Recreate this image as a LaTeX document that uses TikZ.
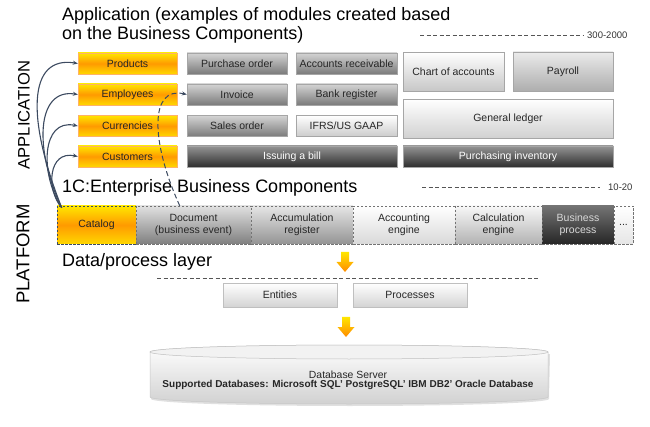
\documentclass[tikz,border=0pt]{standalone}
\usepackage{fontspec}
\setmainfont{Liberation Sans}
\usetikzlibrary{shadows,arrows.meta,calc}
\definecolor{lineblue}{HTML}{3C4A60}
\definecolor{ytop}{HTML}{FFE600}
\definecolor{ymid}{HTML}{FF9A00}
\definecolor{ybot}{HTML}{FFD800}
\definecolor{dashgray}{HTML}{555555}
\begin{document}
\begin{tikzpicture}[x=1pt,y=-1pt,
  every node/.style={inner sep=0pt, font=\fontsize{10.5}{11}\selectfont, text=black!85},
  bx/.style={minimum width=#1, draw=black!35, line width=0.4pt,
     drop shadow={shadow xshift=1pt, shadow yshift=-1pt, opacity=0.25}},
  yel/.style={bx=#1, top color=ytop, bottom color=ybot, middle color=ymid, draw=orange!60},
  gry/.style={bx=#1, top color=black!17, bottom color=black!52},
  lgt/.style={bx=#1, top color=white, bottom color=black!20},
  drk/.style={bx=#1, top color=black!42, bottom color=black!82, text=white},
  row/.style={minimum height=21},
  tall/.style={minimum height=39},
  title/.style={font=\fontsize{18}{20}\selectfont, anchor=base west, text=black},
  side/.style={rotate=90, text=black},
  rng/.style={font=\fontsize{9.5}{10}\selectfont, anchor=west, text=black!80},
  sep/.style={dashgray, line width=0.8pt, dash pattern=on 4pt off 2.5pt},
  pf/.style={minimum height=38, draw=black!55, dash pattern=on 2.5pt off 1.5pt, line width=0.6pt, align=center, font=\fontsize{10.5}{12}\selectfont},
  link/.style={lineblue, line width=1.1pt, -{Stealth[length=5pt,width=4pt]}},
  dlink/.style={lineblue, line width=1pt, dash pattern=on 5pt off 3pt, -{Stealth[length=5pt,width=4pt]}},
  orarrow/.pic={\path[top color=ytop, bottom color=ymid!90!red, draw=none]
     (-4,0) -- (4,0) -- (4,10) -- (8.5,10) -- (0,20) -- (-8.5,10) -- (-4,10) -- cycle;}
]
\useasboundingbox (0,0) rectangle (650,427);

% titles
\node[title] (t1) at (62,21) {Application (examples of modules created based};
\node[title] (t2) at (62,40) {on the Business Components)};
\node[title] (t3) at (62,193) {1C:Enterprise Business Components};
\node[title] (t4) at (62,267) {Data/process layer};
\node[side, font=\fontsize{16.6}{18}\selectfont] (sa) at (24,115) {APPLICATION};
\node[side, font=\fontsize{18.5}{20}\selectfont] (sp) at (23,254) {PLATFORM};

\coordinate (d1a) at (420,35); \coordinate (d1b) at (583,35);
\draw[sep] (d1a) -- (d1b);
\node[rng] (r1) at (587,35) {300-2000};
\coordinate (d2a) at (422,187); \coordinate (d2b) at (600,187);
\draw[sep] (d2a) -- (d2b);
\node[rng] (r2) at (608,187) {10-20};
\coordinate (d3a) at (157,278); \coordinate (d3b) at (538,278);
\draw[sep] (d3a) -- (d3b);

% application column 1
\node[yel=99, row] (prod) at (127.5,63.5) {Products};
\node[yel=99, row] (emp) at (127.5,94.5) {Employees};
\node[yel=99, row] (cur) at (127.5,126) {Currencies};
\node[yel=99, row] (cus) at (127.5,156.5) {Customers};
% column 2
\node[gry=100, row] (po) at (237,63.5) {Purchase order};
\node[gry=100, row] (inv) at (237,94.5) {Invoice};
\node[gry=100, row] (so) at (237,126) {Sales order};
\node[drk=210, row] (bill) at (292,156.5) {Issuing a bill};
% column 3
\node[gry=101, row] (ar) at (346.5,63.5) {Accounts receivable};
\node[gry=101, row] (br) at (346.5,94.5) {Bank register};
\node[lgt=101, row] (ifrs) at (346.5,126) {IFRS/US GAAP};
% right block
\node[lgt=101, tall, bottom color=black!22] (coa) at (453.5,71.5) {Chart of accounts};
\node[lgt=100, tall, top color=black!8, bottom color=black!32] (pay) at (563,71.5) {Payroll};
\node[lgt=210, tall, bottom color=black!18] (gl) at (508,118.5) {General ledger};
\node[drk=210, row] (pi) at (508,156.5) {Purchasing inventory};

% platform row
\node[pf, minimum width=79, top color=ytop, bottom color=ybot, middle color=ymid, draw=lineblue] (cat) at (96.5,225) {Catalog};
\node[pf, minimum width=115, top color=black!12, bottom color=black!50] (doc) at (193.5,225) {Document\\(business event)};
\node[pf, minimum width=102, top color=black!10, bottom color=black!42] (acc) at (302,225) {Accumulation\\register};
\node[pf, minimum width=102, top color=white, bottom color=black!15] (aen) at (404,225) {Accounting\\engine};
\node[pf, minimum width=87, top color=black!3, bottom color=black!30] (cen) at (498.5,225) {Calculation\\engine};
\node[pf, minimum width=72, top color=black!55, bottom color=black!85, text=black!15] (bp) at (578,225) {Business\\process};
\node[pf, minimum width=19, top color=white, bottom color=black!10] (dots) at (623.5,225) {...};

% data layer
\node[lgt=114, minimum height=24, bottom color=black!17, draw=black!25] (ent) at (280,295) {Entities};
\node[lgt=114, minimum height=24, bottom color=black!17, draw=black!25] (proc) at (410,295) {Processes};

\pic at (345,252) {orarrow};
\pic at (346,317) {orarrow};

% database cylinder
\fill[black!12] (151,354) -- (151,399) arc[start angle=180,end angle=360,x radius=199pt,y radius=7pt] -- (550,354) -- cycle;
\path[top color=white, bottom color=black!18, draw=black!22, line width=0.5pt]
  (150,352) -- (150,397) arc[start angle=180,end angle=360,x radius=199pt,y radius=7pt]
  -- (548,352) arc[start angle=0,end angle=180,x radius=199pt,y radius=7pt] -- cycle;
\draw[fill=black!5, draw=black!25, line width=0.5pt] (349,352) ellipse[x radius=199pt, y radius=7pt];
\node[align=center, font=\fontsize{10}{9}\selectfont] (db) at (348,380) {\fontsize{10.4}{9}\selectfont Database Server\\\textbf{Supported Databases: Microsoft SQL' PostgreSQL' IBM DB2' Oracle Database}};

% connectors
\coordinate (cs) at ($(cat.north west)+(5,2)$);
\draw[link] (cs) .. controls (27,120) and (27,55) .. (prod.west);
\draw[link] (cs) .. controls (34,150) and (36,88) .. (emp.west);
\draw[link] (cs) .. controls (40,175) and (41,118) .. (cur.west);
\draw[link] (cs) .. controls (46,190) and (48,150) .. (cus.west);
\coordinate (ds) at ($(doc.north west)+(44,0)$);
\draw[dlink] (ds) .. controls (150,140) and (150,86) .. (inv.west);
\end{tikzpicture}
\end{document}
